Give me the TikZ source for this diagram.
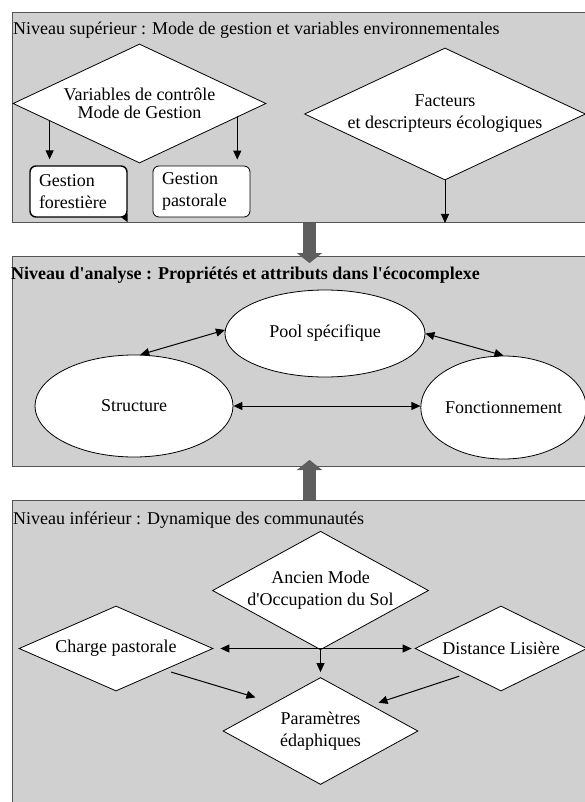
\documentclass[tikz,border=0pt]{standalone}
\usepackage{fontspec}
\setmainfont{Liberation Serif}
\usetikzlibrary{shapes.geometric,arrows.meta,calc}
\definecolor{panelgray}{HTML}{D0D0D0}
\definecolor{panelline}{HTML}{555555}
\definecolor{blockgray}{HTML}{5E5E5E}
\begin{document}
\begin{tikzpicture}[x=1pt,y=-1pt,
  font=\fontsize{18}{22}\selectfont,
  panel/.style={draw=panelline, line width=1pt, fill=panelgray, anchor=north west, inner sep=0pt, minimum width=600pt},
  title/.style={anchor=west, inner sep=0pt},
  diam/.style={diamond, draw=black, line width=0.8pt, fill=white, inner sep=0pt, align=center},
  ell/.style={ellipse, draw=black, line width=0.8pt, fill=white, inner sep=0pt},
  gbox/.style={rectangle, rounded corners=6pt, draw=black, fill=white, minimum width=97pt, minimum height=51pt, text width=79pt, inner xsep=9pt, inner ysep=0pt, align=left},
  arr/.style={-{Triangle[length=9pt,width=8pt]}, line width=1pt},
  biarr/.style={{Triangle[length=9pt,width=8pt]}-{Triangle[length=9pt,width=8pt]}, line width=1pt},
  blk/.style={draw=blockgray, line width=13pt, -{Triangle[length=10pt,width=25pt,line width=0.01pt]}}
]
\useasboundingbox (0,0) rectangle (585,802);

% panels
\node[panel, minimum height=210pt] (topP) at (12,12) {};
\node[panel, minimum height=210pt] (midP) at (12,256) {};
\node[panel, minimum height=330pt] (botP) at (12,500) {};

% titles
\node[title] (t1) at (13,30) {Niveau supérieur : Mode de gestion et variables environnementales};
\node[title] (t2) at (11,275) {\bfseries Niveau d\textquotesingle analyse : Propriétés et attributs dans l\textquotesingle écocomplexe};
\node[title] (t3) at (13,520) {Niveau inférieur : Dynamique des communautés};

% upper level
\node[diam, shape aspect=2.126, minimum width=253pt, minimum height=119pt] (vc) at (139.5,103.5) {Variables de contrôle\\[-4pt]Mode de Gestion};
\node[diam, shape aspect=2.129, minimum width=281pt, minimum height=132pt] (fd) at (445,114) {Facteurs\\et descripteurs écologiques};
\node[gbox, line width=1.4pt] (gf) at (78.5,191.5) {Gestion\\forestière};
\node[gbox, line width=0.8pt] (gp) at (201.5,191.5) {Gestion\\pastorale};
\fill ($(gf.south east)+(-6,0)$) -- ++(6,-4.5) -- ++(0,9) -- cycle;

\draw[arr] (vc.191.4) -- ($(vc.191.4 |- gf.north)+(0,-6)$);
\draw[arr] (vc.-8.3) -- ($(vc.-8.3 |- gp.north)+(0,-6)$);
\draw[arr] (fd.south) -- (fd.south |- topP.south);

% block arrows
\coordinate (bx) at (309.5,0);
\draw[blk] (topP.south -| bx) -- ($(midP.north -| bx)+(0,7)$);
\draw[blk] (botP.north -| bx) -- ($(midP.south -| bx)+(0,-7)$);

% analysis level
\node[ell, minimum width=200pt, minimum height=87pt] (pool) at (325,333.5) {Pool spécifique};
\node[ell, minimum width=198pt, minimum height=102pt] (st) at (134,406) {Structure};
\node[ell, minimum width=161pt, minimum height=103pt] (fc) at (503.5,407.5) {Fonctionnement};
\draw[biarr] (st.83) -- (pool.178);
\draw[biarr] (pool.0) -- (fc.90);
\draw[biarr] (st.east) -- (st.east -| fc.west);

% lower level
\node[diam, shape aspect=1.822, minimum width=195pt, minimum height=107pt] (an) at (320.5,590.5) {Ancien Mode\\d\textquotesingle Occupation du Sol};
\node[diam, shape aspect=2.282, minimum width=194pt, minimum height=85pt] (ch) at (116,648.5) {Charge pastorale};
\node[diam, shape aspect=2.024, minimum width=172pt, minimum height=85pt] (ds) at (501,648.5) {Distance Lisière};
\node[diam, shape aspect=1.822, minimum width=195pt, minimum height=107pt] (pa) at (320.5,731) {Paramètres\\édaphiques};
\draw[biarr, shorten <=7pt, shorten >=3pt] (ch.east) -- (ds.west);
\draw[arr, shorten >=5pt] (an.south) -- (an.south |- pa.north);
\draw[arr, shorten <=7pt, shorten >=19pt] (ch.-24.4) -- (pa.149.7);
\draw[arr, shorten <=7pt, shorten >=7.5pt] (ds.216.4) -- (pa.27.2);
\end{tikzpicture}
\end{document}
